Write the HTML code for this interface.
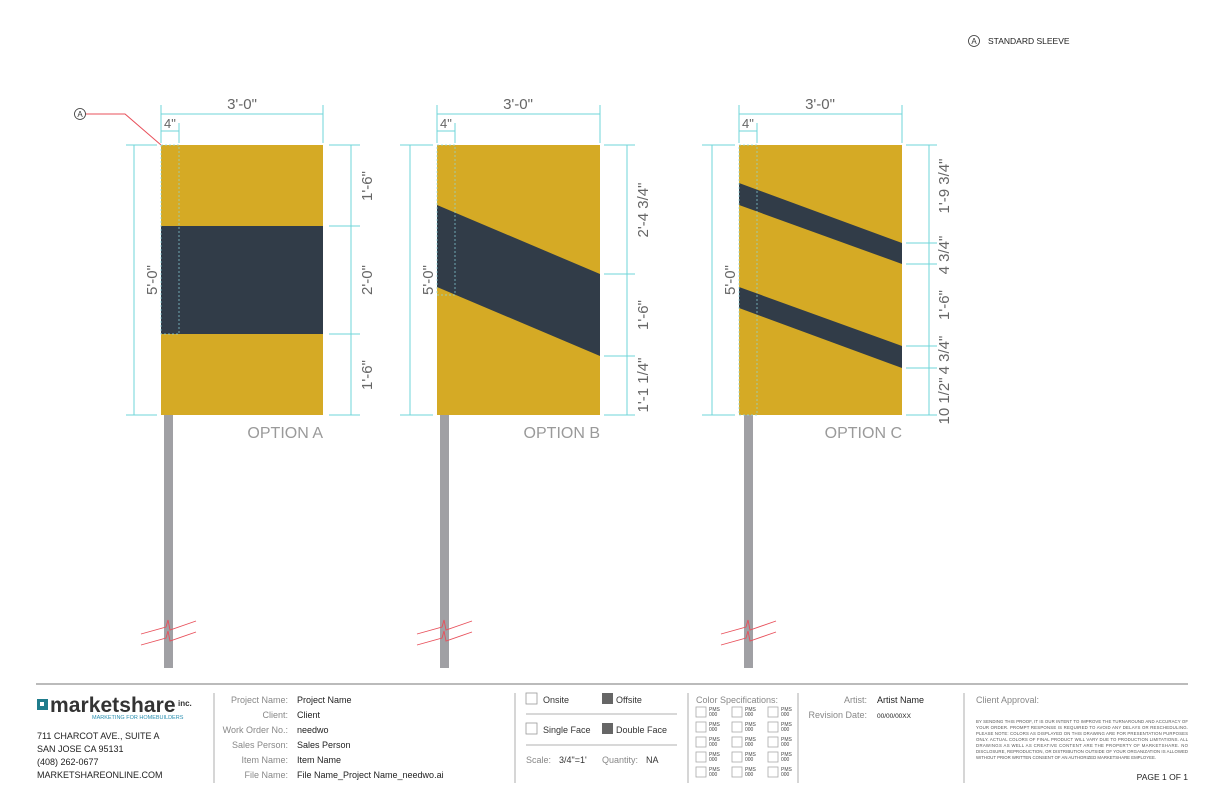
<!DOCTYPE html>
<html><head><meta charset="utf-8"><style>
body{margin:0;width:1224px;height:792px;background:#fff;overflow:hidden;font-family:"Liberation Sans",sans-serif}
svg{position:absolute;left:0;top:0}
</style></head><body>
<svg width="1224" height="792" viewBox="0 0 1224 792" font-family="Liberation Sans, sans-serif">
<circle cx="974" cy="41" r="5.5" fill="none" stroke="#333" stroke-width="0.8"/>
<text x="974" y="44" font-size="8" text-anchor="middle" fill="#333">A</text>
<text x="988" y="44" font-size="8.5" fill="#222">STANDARD SLEEVE</text>

<circle cx="80" cy="114" r="5.5" fill="none" stroke="#333" stroke-width="0.8"/>
<text x="80" y="117" font-size="8" text-anchor="middle" fill="#333">A</text>
<polyline points="86,114 125,114 161,145" fill="none" stroke="#e8505b" stroke-width="1"/>

<g fill="#a0a0a4">
<rect x="164" y="415" width="9" height="253"/>
<rect x="440" y="415" width="9" height="253"/>
<rect x="744" y="415" width="9" height="253"/>
</g>

<g fill="none" stroke="#e8505b" stroke-width="0.9">
<polyline points="141,634 166,627 168,620 170,630 196,621"/>
<polyline points="141,645 166,638 168,631 170,641 196,632"/>
<polyline points="417,634 442,627 444,620 446,630 472,621"/>
<polyline points="417,645 442,638 444,631 446,641 472,632"/>
<polyline points="721,634 746,627 748,620 750,630 776,621"/>
<polyline points="721,645 746,638 748,631 750,641 776,632"/>
</g>

<rect x="161" y="145" width="162" height="270" fill="#d5aa25"/>
<rect x="161" y="226" width="162" height="108" fill="#313c48"/>
<rect x="437" y="145" width="163" height="270" fill="#d5aa25"/>
<polygon points="437,205 600,274 600,356 437,287" fill="#313c48"/>
<rect x="739" y="145" width="163" height="270" fill="#d5aa25"/>
<polygon points="739,183 902,243 902,264 739,205" fill="#313c48"/>
<polygon points="739,287 902,346 902,368 739,308" fill="#313c48"/>

<g stroke="#8ad8e0" stroke-width="0.7" stroke-dasharray="2,2" fill="none">
<rect x="161" y="145" width="18" height="189"/>
<rect x="437" y="145" width="18" height="150"/>
<rect x="739" y="145" width="18" height="270"/>
</g>

<g stroke="#6fd6d8" stroke-width="1" fill="none">
<line x1="161" y1="114" x2="323" y2="114"/><line x1="161" y1="105" x2="161" y2="143"/><line x1="323" y1="105" x2="323" y2="143"/>
<line x1="161" y1="131" x2="179" y2="131"/><line x1="179" y1="123" x2="179" y2="143"/>
<line x1="134" y1="145" x2="134" y2="415"/><line x1="126" y1="145" x2="157" y2="145"/><line x1="126" y1="415" x2="157" y2="415"/>
<line x1="351" y1="145" x2="351" y2="415"/>
<line x1="329" y1="145" x2="360" y2="145"/><line x1="329" y1="226" x2="360" y2="226"/><line x1="329" y1="334" x2="360" y2="334"/><line x1="329" y1="415" x2="360" y2="415"/>
<line x1="437" y1="114" x2="600" y2="114"/><line x1="437" y1="105" x2="437" y2="143"/><line x1="600" y1="105" x2="600" y2="143"/>
<line x1="437" y1="131" x2="455" y2="131"/><line x1="455" y1="123" x2="455" y2="143"/>
<line x1="410" y1="145" x2="410" y2="415"/><line x1="400" y1="145" x2="433" y2="145"/><line x1="400" y1="415" x2="433" y2="415"/>
<line x1="627" y1="145" x2="627" y2="415"/>
<line x1="604" y1="145" x2="635" y2="145"/><line x1="604" y1="274" x2="635" y2="274"/><line x1="604" y1="356" x2="635" y2="356"/><line x1="604" y1="415" x2="635" y2="415"/>
<line x1="739" y1="114" x2="902" y2="114"/><line x1="739" y1="105" x2="739" y2="143"/><line x1="902" y1="105" x2="902" y2="143"/>
<line x1="739" y1="131" x2="757" y2="131"/><line x1="757" y1="123" x2="757" y2="143"/>
<line x1="712" y1="145" x2="712" y2="415"/><line x1="702" y1="145" x2="735" y2="145"/><line x1="702" y1="415" x2="735" y2="415"/>
<line x1="929" y1="145" x2="929" y2="415"/>
<line x1="906" y1="145" x2="937" y2="145"/><line x1="906" y1="243" x2="937" y2="243"/><line x1="906" y1="264" x2="937" y2="264"/><line x1="906" y1="346" x2="937" y2="346"/><line x1="906" y1="368" x2="937" y2="368"/><line x1="906" y1="415" x2="937" y2="415"/>
</g>

<g fill="#666" font-size="15">
<text x="242" y="109" text-anchor="middle">3'-0"</text>
<text x="518" y="109" text-anchor="middle">3'-0"</text>
<text x="820" y="109" text-anchor="middle">3'-0"</text>
<text x="164" y="128" font-size="13">4"</text>
<text x="440" y="128" font-size="13">4"</text>
<text x="742" y="128" font-size="13">4"</text>
<text transform="translate(157,280) rotate(-90)" text-anchor="middle">5'-0"</text>
<text transform="translate(433,280) rotate(-90)" text-anchor="middle">5'-0"</text>
<text transform="translate(735,280) rotate(-90)" text-anchor="middle">5'-0"</text>
<text transform="translate(372,186) rotate(-90)" text-anchor="middle">1'-6"</text>
<text transform="translate(372,280) rotate(-90)" text-anchor="middle">2'-0"</text>
<text transform="translate(372,375) rotate(-90)" text-anchor="middle">1'-6"</text>
<text transform="translate(648,210) rotate(-90)" text-anchor="middle">2'-4 3/4"</text>
<text transform="translate(648,315) rotate(-90)" text-anchor="middle">1'-6"</text>
<text transform="translate(648,385) rotate(-90)" text-anchor="middle">1'-1 1/4"</text>
<text transform="translate(949,186) rotate(-90)" text-anchor="middle">1'-9 3/4"</text>
<text transform="translate(949,255) rotate(-90)" text-anchor="middle">4 3/4"</text>
<text transform="translate(949,305) rotate(-90)" text-anchor="middle">1'-6"</text>
<text transform="translate(949,355) rotate(-90)" text-anchor="middle">4 3/4"</text>
<text transform="translate(949,401) rotate(-90)" text-anchor="middle">10 1/2"</text>
</g>
<g fill="#9a9a9a" font-size="16">
<text x="323" y="438" text-anchor="end">OPTION A</text>
<text x="600" y="438" text-anchor="end">OPTION B</text>
<text x="902" y="438" text-anchor="end">OPTION C</text>
</g>

<line x1="36" y1="684" x2="1188" y2="684" stroke="#bbb" stroke-width="2"/>
<g stroke="#999" stroke-width="0.8">
<line x1="214" y1="693" x2="214" y2="783"/>
<line x1="515" y1="693" x2="515" y2="783"/>
<line x1="688" y1="693" x2="688" y2="783"/>
<line x1="798" y1="693" x2="798" y2="783"/>
<line x1="964" y1="693" x2="964" y2="783"/>
<line x1="526" y1="714" x2="677" y2="714"/>
<line x1="526" y1="745" x2="677" y2="745"/>
</g>
<rect x="37" y="699" width="11" height="11" fill="#1f7c8c"/>
<rect x="40" y="702" width="4" height="4" fill="#fff"/>
<text x="50" y="712" font-size="21" font-weight="bold" fill="#333" letter-spacing="-0.5" textLength="125">marketshare</text>
<text x="178" y="706" font-size="8" font-weight="bold" fill="#333">inc.</text>
<text x="92" y="719" font-size="5.5" fill="#2a8fb0">MARKETING FOR HOMEBUILDERS</text>
<g font-size="9" fill="#222">
<text x="37" y="739">711 CHARCOT AVE., SUITE A</text>
<text x="37" y="752">SAN JOSE CA 95131</text>
<text x="37" y="765">(408) 262-0677</text>
<text x="37" y="778">MARKETSHAREONLINE.COM</text>
</g>
<g font-size="9" fill="#888" text-anchor="end">
<text x="288" y="703">Project Name:</text>
<text x="288" y="718">Client:</text>
<text x="288" y="733">Work Order No.:</text>
<text x="288" y="748">Sales Person:</text>
<text x="288" y="763">Item Name:</text>
<text x="288" y="778">File Name:</text>
</g>
<g font-size="9" fill="#222">
<text x="297" y="703">Project Name</text>
<text x="297" y="718">Client</text>
<text x="297" y="733">needwo</text>
<text x="297" y="748">Sales Person</text>
<text x="297" y="763">Item Name</text>
<text x="297" y="778">File Name_Project Name_needwo.ai</text>
</g>
<g fill="none" stroke="#999" stroke-width="0.8">
<rect x="526" y="693" width="11" height="11"/><rect x="526" y="723" width="11" height="11"/>
</g>
<rect x="602" y="693" width="11" height="11" fill="#666"/><rect x="602" y="723" width="11" height="11" fill="#666"/>
<g font-size="9" fill="#333">
<text x="543" y="703">Onsite</text><text x="616" y="703">Offsite</text>
<text x="543" y="733">Single Face</text><text x="616" y="733">Double Face</text>
<text x="526" y="763" fill="#888">Scale:</text><text x="559" y="763">3/4"=1'</text>
<text x="602" y="763" fill="#888">Quantity:</text><text x="646" y="763">NA</text>
</g>
<text x="696" y="703" font-size="9" fill="#888">Color Specifications:</text>
<g fill="none" stroke="#aaa" stroke-width="0.8">
<rect x="696" y="707" width="10" height="10"/><rect x="732" y="707" width="10" height="10"/><rect x="768" y="707" width="10" height="10"/>
<rect x="696" y="722" width="10" height="10"/><rect x="732" y="722" width="10" height="10"/><rect x="768" y="722" width="10" height="10"/>
<rect x="696" y="737" width="10" height="10"/><rect x="732" y="737" width="10" height="10"/><rect x="768" y="737" width="10" height="10"/>
<rect x="696" y="752" width="10" height="10"/><rect x="732" y="752" width="10" height="10"/><rect x="768" y="752" width="10" height="10"/>
<rect x="696" y="767" width="10" height="10"/><rect x="732" y="767" width="10" height="10"/><rect x="768" y="767" width="10" height="10"/>
</g>
<g font-size="5" fill="#444">
<text x="709" y="711">PMS</text><text x="745" y="711">PMS</text><text x="781" y="711">PMS</text>
<text x="709" y="716">000</text><text x="745" y="716">000</text><text x="781" y="716">000</text>
<text x="709" y="726">PMS</text><text x="745" y="726">PMS</text><text x="781" y="726">PMS</text>
<text x="709" y="731">000</text><text x="745" y="731">000</text><text x="781" y="731">000</text>
<text x="709" y="741">PMS</text><text x="745" y="741">PMS</text><text x="781" y="741">PMS</text>
<text x="709" y="746">000</text><text x="745" y="746">000</text><text x="781" y="746">000</text>
<text x="709" y="756">PMS</text><text x="745" y="756">PMS</text><text x="781" y="756">PMS</text>
<text x="709" y="761">000</text><text x="745" y="761">000</text><text x="781" y="761">000</text>
<text x="709" y="771">PMS</text><text x="745" y="771">PMS</text><text x="781" y="771">PMS</text>
<text x="709" y="776">000</text><text x="745" y="776">000</text><text x="781" y="776">000</text>
</g>
<text x="867" y="703" font-size="9" fill="#888" text-anchor="end">Artist:</text>
<text x="877" y="703" font-size="9" fill="#222">Artist Name</text>
<text x="867" y="718" font-size="9" fill="#888" text-anchor="end">Revision Date:</text>
<text x="877" y="718" font-size="6.5" fill="#222">00/00/00XX</text>
<text x="976" y="703" font-size="9" fill="#888">Client Approval:</text>
<g font-size="4.3" fill="#555">
<text x="976" y="723" textLength="212">BY SENDING THIS PROOF, IT IS OUR INTENT TO IMPROVE THE TURNAROUND AND ACCURACY OF</text>
<text x="976" y="729" textLength="212">YOUR ORDER. PROMPT RESPONSE IS REQUIRED TO AVOID ANY DELAYS OR RESCHEDULING.</text>
<text x="976" y="735" textLength="212">PLEASE NOTE: COLORS AS DISPLAYED ON THIS DRAWING ARE FOR PRESENTATION PURPOSES</text>
<text x="976" y="741" textLength="212">ONLY. ACTUAL COLORS OF FINAL PRODUCT WILL VARY DUE TO PRODUCTION LIMITATIONS. ALL</text>
<text x="976" y="747" textLength="212">DRAWINGS AS WELL AS CREATIVE CONTENT ARE THE PROPERTY OF MARKETSHARE. NO</text>
<text x="976" y="753" textLength="212">DISCLOSURE, REPRODUCTION, OR DISTRIBUTION OUTSIDE OF YOUR ORGANIZATION IS ALLOWED</text>
<text x="976" y="759" textLength="180">WITHOUT PRIOR WRITTEN CONSENT OF AN AUTHORIZED MARKETSHARE EMPLOYEE.</text>
</g>
<text x="1188" y="780" font-size="8.5" fill="#222" text-anchor="end">PAGE 1 OF 1</text>
</svg>
</body></html>
